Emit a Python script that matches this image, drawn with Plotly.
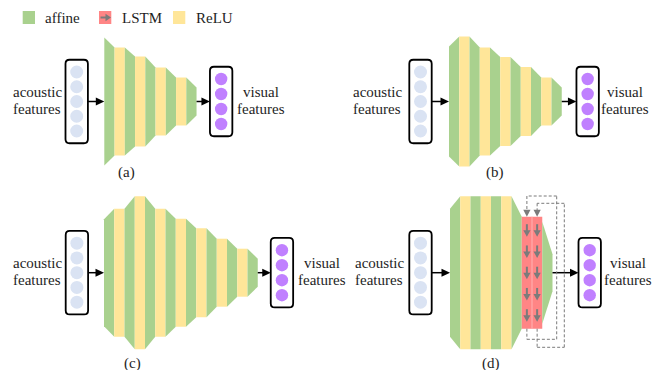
import plotly.graph_objects as go

# ---------------- data ----------------
legend_labels = ["affine", "LSTM", "ReLU"]
panel_labels = ["(a)", "(b)", "(c)", "(d)"]
input_label = ["acoustic", "features"]
output_label = ["visual", "features"]
n_input_units = 5
n_output_units = 4

# layer heights: first value = left height of first affine layer,
# middle values = ReLU layer heights, last value = right height of last affine layer
heights_a = [128, 108, 90, 68, 48, 28]
heights_b = [110, 130, 108, 89, 69, 48, 28]
heights_c = [107, 128, 153, 128, 108, 89, 68, 48, 28]
# panel (d): explicit layers (kind, left height, right height)
kinds_d = ["g", "y", "g", "y", "g", "y", "g", "l", "l", "g"]
hleft_d = [128, 153, 153, 153, 153, 153, 153, 112, 112, 102]
hright_d = [153, 153, 153, 153, 153, 153, 112, 112, 112, 37]
lstm_steps = 5

# ---------------- style ----------------
GREEN = "#a9d18e"
YELLOW = "#ffe699"
RED = "#ff8585"
PURPLE = "#c080ff"
BLUEGRAY = "#dae3f3"
GRAY = "#7b7b7b"
TXT = "#1e1e1e"
FONT = "Liberation Serif, Times New Roman, serif"
LW = 10.25  # layer width

shapes = []
annotations = []


def poly(pts, color, line_color=None, lw=0):
    path = "M " + " L ".join(f"{x:.2f},{y:.2f}" for x, y in pts) + " Z"
    shapes.append(dict(type="path", path=path, fillcolor=color,
                       line=dict(color=line_color or color, width=lw),
                       xref="x", yref="y", layer="above"))


def rrect(x0, y0, x1, y1, r, lw=1.8):
    p = (f"M {x0+r},{y0} L {x1-r},{y0} Q {x1},{y0} {x1},{y0+r} "
         f"L {x1},{y1-r} Q {x1},{y1} {x1-r},{y1} L {x0+r},{y1} "
         f"Q {x0},{y1} {x0},{y1-r} L {x0},{y0+r} Q {x0},{y0} {x0+r},{y0} Z")
    shapes.append(dict(type="path", path=p, fillcolor="white",
                       line=dict(color="black", width=lw), xref="x", yref="y"))


def circle(cx, cy, r, color):
    shapes.append(dict(type="circle", x0=cx-r, x1=cx+r, y0=cy-r, y1=cy+r,
                       fillcolor=color, line=dict(width=0), xref="x", yref="y"))


def line(x0, y0, x1, y1, color="black", w=1.5, dash=None):
    d = dict(color=color, width=w)
    if dash:
        d["dash"] = dash
    shapes.append(dict(type="line", x0=x0, y0=y0, x1=x1, y1=y1, line=d,
                       xref="x", yref="y"))


def harrow(x0, x1, y, color="black", w=1.5, hl=8.5, hw=4):
    line(x0, y, x1 - hl + 1, y, color, w)
    poly([(x1, y), (x1 - hl, y - hw), (x1 - hl, y + hw)], color)


def varrow(x, y0, y1, color=GRAY, w=2, hl=6.5, hw=3.6, dash=None):
    line(x, y0, x, y1 - hl + 1, color, w, dash)
    poly([(x, y1), (x - hw, y1 - hl), (x + hw, y1 - hl)], color)


def text(x, y, s, size=15):
    annotations.append(dict(x=x, y=y, text=s, showarrow=False, xref="x", yref="y",
                            font=dict(family=FONT, size=size, color=TXT),
                            xanchor="center", yanchor="middle"))


def layers_from_heights(h):
    out = []
    for i in range(len(h) - 1):
        out.append(("g", h[i], h[i + 1]))
        if i < len(h) - 2:
            out.append(("y", h[i + 1], h[i + 1]))
    return out


def draw_net(x0, cy, layers):
    x = x0
    pos = []
    for kind, hl, hr in layers:
        col = {"g": GREEN, "y": YELLOW, "l": RED}[kind]
        poly([(x, cy - hl / 2), (x + LW, cy - hr / 2),
              (x + LW, cy + hr / 2), (x, cy + hl / 2)], col)
        pos.append((kind, x, x + LW, hl, hr))
        x += LW
    return x, pos


def draw_panel(in_x, net_x, cy, layers, out_gap, label, label_xy, in_txt_x, out_txt_dx):
    # input box
    bw, bh = 22.4, 83.5
    rrect(in_x, cy - bh / 2, in_x + bw, cy + bh / 2, 4)
    sp = 14.75
    for k in range(n_input_units):
        circle(in_x + bw / 2, cy + (k - (n_input_units - 1) / 2) * sp, 6.5, BLUEGRAY)
    harrow(in_x + bw, net_x, cy)
    end_x, pos = draw_net(net_x, cy, layers)
    # output box
    ox = end_x + out_gap
    obw, obh = 22.4, 69.5
    harrow(end_x, ox, cy)
    rrect(ox, cy - obh / 2, ox + obw, cy + obh / 2, 4)
    sp2 = 15
    for k in range(n_output_units):
        circle(ox + obw / 2, cy + (k - (n_output_units - 1) / 2) * sp2, 6.2, PURPLE)
    # texts
    text(in_txt_x, cy - 9.5, input_label[0])
    text(in_txt_x, cy + 7, input_label[1])
    tx = ox + obw + out_txt_dx
    text(tx, cy - 9.5, output_label[0])
    text(tx, cy + 7, output_label[1])
    text(label_xy[0], label_xy[1], label)
    return end_x, pos


TOP, BOT = 101.5, 272.7

draw_panel(65.5, 104.3, TOP, layers_from_heights(heights_a), 13.4,
           panel_labels[0], (126.5, 172.5), 37.2, 28.5)
draw_panel(409.3, 449.0, TOP, layers_from_heights(heights_b), 14.7,
           panel_labels[1], (495, 172), 377.3, 26.5)
draw_panel(65.7, 104.0, BOT, layers_from_heights(heights_c), 13.0,
           panel_labels[2], (132.5, 363), 37.2, 28.5)
layers_d = list(zip(kinds_d, hleft_d, hright_d))
end_d, pos_d = draw_panel(409.3, 450.0, BOT, layers_d, 26.0,
                          panel_labels[3], (490.5, 363), 379, 27)

# LSTM details in (d)
lstm = [p for p in pos_d if p[0] == "l"]
for i, (_, xa, xb, hl, hr) in enumerate(lstm):
    cx = (xa + xb) / 2
    top = BOT - hl / 2
    for s in range(lstm_steps):
        tip = top + 20 + s * 21.25
        varrow(cx, tip - 12.5, tip)
# separator between lstm columns
line(lstm[0][2], BOT - lstm[0][3] / 2, lstm[0][2], BOT + lstm[0][3] / 2, "#ffb3b3", 1)

# recurrent dashed loops
loop_top = [196.0, 203.3]
loop_bottom = [339.3, 347.3]
loop_right = [556.7, 564.3]
for i, (_, xa, xb, hl, hr) in enumerate(lstm):
    cx = (xa + xb) / 2
    top = BOT - hl / 2
    bot = BOT + hl / 2
    dash = "3px,2px"
    line(cx, bot, cx, loop_bottom[i], GRAY, 1, dash)
    line(cx, loop_bottom[i], loop_right[i], loop_bottom[i], GRAY, 1, dash)
    line(loop_right[i], loop_bottom[i], loop_right[i], loop_top[i], GRAY, 1, dash)
    line(loop_right[i], loop_top[i], cx, loop_top[i], GRAY, 1, dash)
    line(cx, loop_top[i], cx, top - 6, GRAY, 1, dash)
    poly([(cx, top), (cx - 3.6, top - 7), (cx + 3.6, top - 7)], GRAY)

# legend
leg_x = [22.7, 99.0, 173.0]
leg_col = [GREEN, RED, YELLOW]
for lx, col, lab in zip(leg_x, leg_col, legend_labels):
    poly([(lx, 11), (lx + 12.3, 11), (lx + 12.3, 24), (lx, 24)], col)
    annotations.append(dict(x=lx + 20.5, y=17.5, text=lab, showarrow=False,
                            xref="x", yref="y", xanchor="left", yanchor="middle",
                            font=dict(family=FONT, size=15, color=TXT)))
# arrow icon in LSTM legend
line(100.5, 17.5, 106.5, 17.5, GRAY, 2)
poly([(111, 17.5), (105.5, 13.8), (105.5, 21.2)], GRAY)

fig = go.Figure()
fig.update_layout(
    width=661, height=370,
    margin=dict(l=0, r=0, t=0, b=0),
    paper_bgcolor="white", plot_bgcolor="white",
    xaxis=dict(range=[0, 661], visible=False, fixedrange=True),
    yaxis=dict(range=[370, 0], visible=False, fixedrange=True),
    shapes=shapes, annotations=annotations, showlegend=False,
)
fig.write_html("out.html", config={"displayModeBar": False},
               post_script="document.body.style.margin='0';document.body.style.overflow='hidden';")
